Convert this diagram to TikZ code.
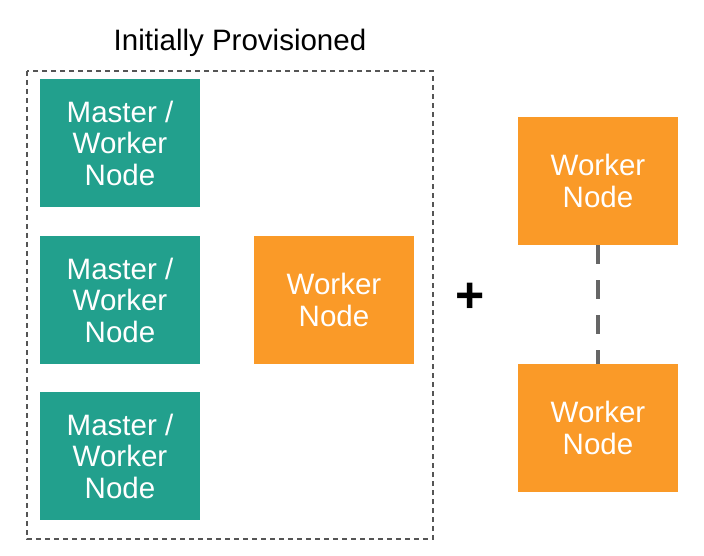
\documentclass[tikz,border=0pt]{standalone}
\usepackage{fontspec}
\setmainfont{Liberation Sans}
\definecolor{tealbox}{HTML}{22A08D}
\definecolor{orangebox}{HTML}{FA9A28}
\definecolor{dashgray}{HTML}{555555}
\definecolor{linkgray}{HTML}{666666}
\begin{document}
\begin{tikzpicture}[x=1pt,y=-1pt,
  box/.style={minimum width=160pt,minimum height=128pt,inner sep=0pt,text=white,align=center,
    font=\fontsize{29.5}{31.5}\selectfont},
  master/.style={box,fill=tealbox},
  worker/.style={box,fill=orangebox},
  groupbox/.style={draw=dashgray,line width=1.2pt,dash pattern=on 5pt off 4pt},
  link/.style={draw=linkgray,line width=4pt,dash pattern=on 19pt off 16pt}]
\useasboundingbox (0,0) rectangle (704,556);
\node[font=\fontsize{29.5}{32}\selectfont] (title) at (240,43) {Initially Provisioned};
\draw[groupbox] (27,71) rectangle (433,539);
\node[master] (m1) at (120,143) {Master /\\Worker\\Node};
\node[master] (m2) at (120,300) {Master /\\Worker\\Node};
\node[master] (m3) at (120,456) {Master /\\Worker\\Node};
\node[worker] (w0) at (334,300) {Worker\\Node};
\node[font=\fontsize{50}{50}\selectfont\bfseries] (plus) at (470,298) {+};
\node[worker] (w1) at (598,181) {Worker\\Node};
\node[worker] (w2) at (598,428) {Worker\\Node};
\draw[link] (w1.south) -- (w2.north);
\end{tikzpicture}
\end{document}
